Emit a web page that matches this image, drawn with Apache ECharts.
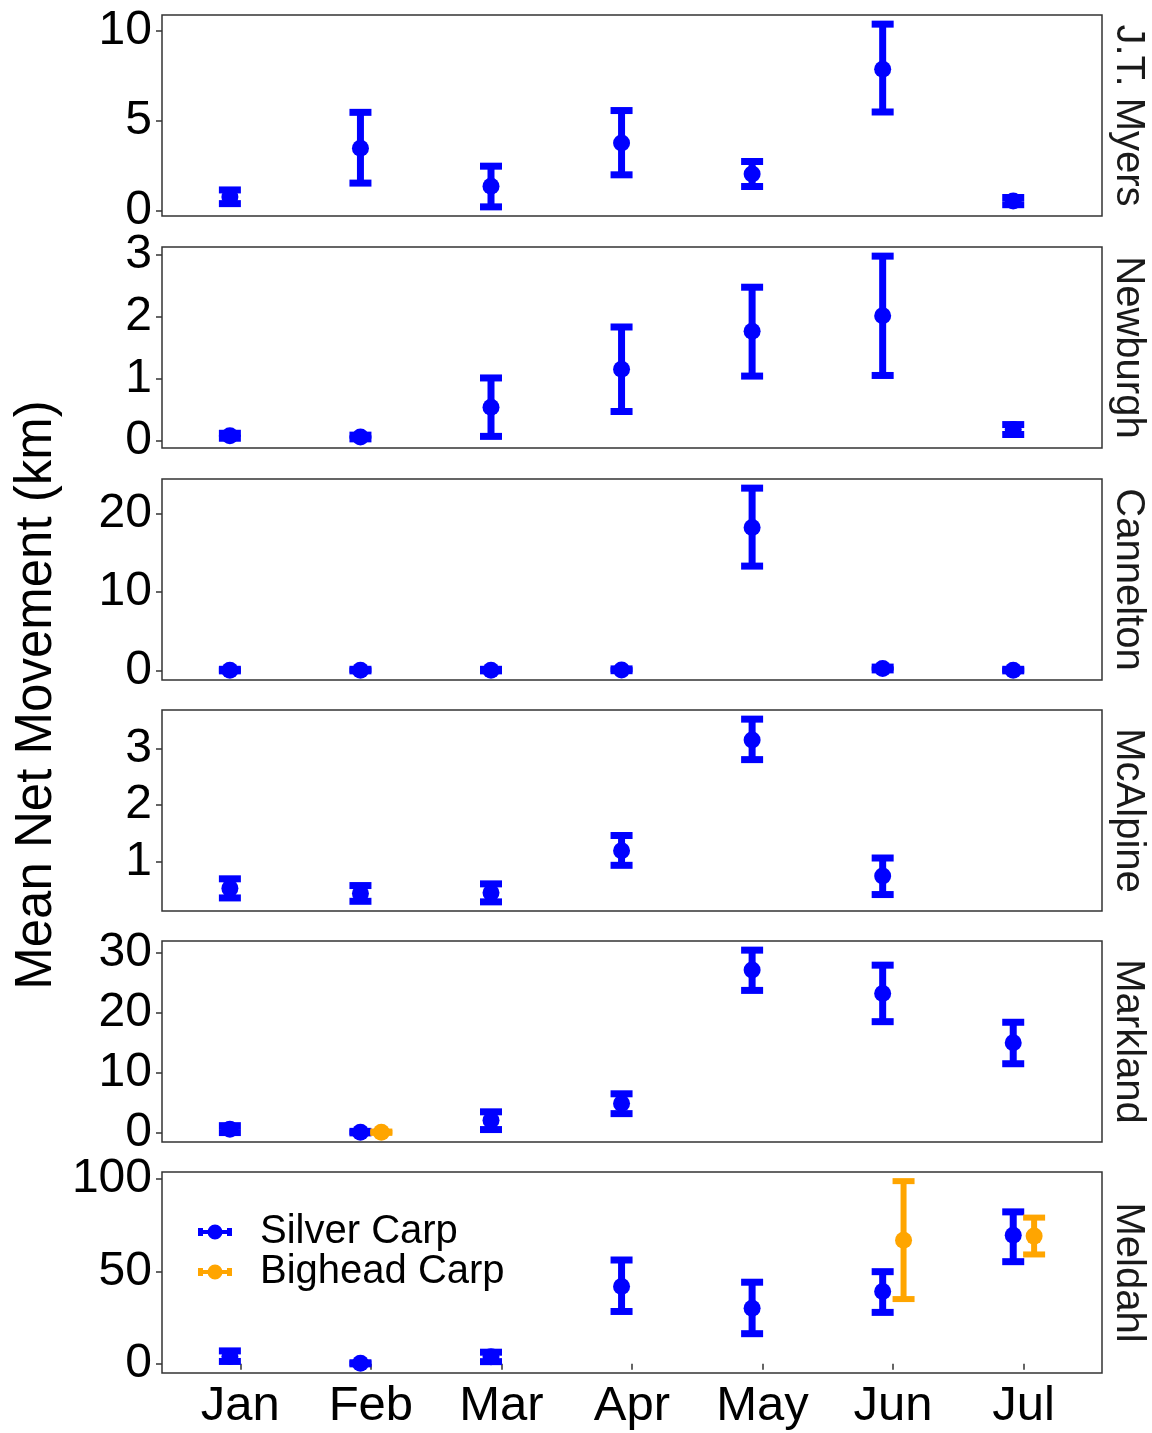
<!DOCTYPE html>
<html>
<head>
<meta charset="utf-8">
<title>Mean Net Movement by Site</title>
<script src="https://cdn.jsdelivr.net/npm/echarts@6/dist/echarts.min.js"></script>
<style>
  html, body { margin: 0; padding: 0; background: #fff; }
  #chart { width: 1152px; height: 1433px; }
</style>
</head>
<body>
<div id="chart"></div>
<script>
// Months on the x axis and the dam sites (one panel each, top to bottom)
const months = ['Jan', 'Feb', 'Mar', 'Apr', 'May', 'Jun', 'Jul'];
const sites = ['J.T. Myers', 'Newburgh', 'Cannelton', 'McAlpine', 'Markland', 'Meldahl'];
const species = ['Silver Carp', 'Bighead Carp'];

// Tick values on each panel's y axis
const yTicks = [
  [0, 5, 10],
  [0, 1, 2, 3],
  [0, 10, 20],
  [1, 2, 3],
  [0, 10, 20, 30],
  [0, 50, 100]
];

// Silver Carp: mean net movement (km) and error-bar limits, rows = sites, columns = months
const silverMean = [
  [0.75, 3.45, 1.35, 3.75, 2.02, 7.85, 0.52],
  [0.08, 0.06, 0.54, 1.15, 1.76, 2.01, 0.18],
  [0.08, 0.08, 0.08, 0.12, 18.2, 0.30, 0.08],
  [0.52, 0.43, 0.44, 1.19, 3.16, 0.74, null],
  [0.60, 0.10, 2.10, 4.90, 27.1, 23.2, 15.0],
  [4.0, 0.3, 3.8, 41.8, 30.1, 39.1, 69.5]
];
const silverLow = [
  [0.38, 1.52, 0.20, 1.98, 1.33, 5.47, 0.32],
  [0.04, 0.03, 0.07, 0.47, 1.04, 1.05, 0.10],
  [0.00, 0.00, 0.00, 0.02, 13.3, 0.12, 0.00],
  [0.35, 0.29, 0.28, 0.93, 2.81, 0.41, null],
  [0.05, 0.00, 0.55, 3.20, 23.7, 18.5, 11.5],
  [1.3, 0.0, 1.2, 28.3, 16.3, 27.8, 55.2]
];
const silverHigh = [
  [1.14, 5.45, 2.46, 5.55, 2.72, 10.35, 0.72],
  [0.12, 0.09, 1.01, 1.83, 2.47, 2.97, 0.26],
  [0.20, 0.20, 0.20, 0.25, 23.2, 0.48, 0.20],
  [0.69, 0.57, 0.60, 1.46, 3.53, 1.06, null],
  [1.20, 0.25, 3.50, 6.50, 30.4, 27.9, 18.4],
  [7.0, 0.6, 6.3, 56.1, 44.1, 49.8, 82.1]
];

// Bighead Carp: only recorded at Markland (Feb) and Meldahl (Jun, Jul)
const bigheadMean = [
  [null, null, null, null, null, null, null],
  [null, null, null, null, null, null, null],
  [null, null, null, null, null, null, null],
  [null, null, null, null, null, null, null],
  [null, 0.10, null, null, null, null, null],
  [null, null, null, null, null, 66.8, 69.0]
];
const bigheadLow = [
  [null, null, null, null, null, null, null],
  [null, null, null, null, null, null, null],
  [null, null, null, null, null, null, null],
  [null, null, null, null, null, null, null],
  [null, 0.00, null, null, null, null, null],
  [null, null, null, null, null, 35.0, 59.1]
];
const bigheadHigh = [
  [null, null, null, null, null, null, null],
  [null, null, null, null, null, null, null],
  [null, null, null, null, null, null, null],
  [null, null, null, null, null, null, null],
  [null, 0.22, null, null, null, null, null],
  [null, null, null, null, null, 98.7, 79.0]
];

const colors = { 'Silver Carp': '#0000ff', 'Bighead Carp': '#ffa500' };
const barWidths = { 'Silver Carp': 7, 'Bighead Carp': 6 };
const dodge = { 'Silver Carp': -0.08, 'Bighead Carp': 0.08 };

const FONT = '"Liberation Sans", Arial, Helvetica, sans-serif';
const panelTops = [15, 247, 479, 710, 941, 1172];
const panelHeight = 201;
const panelLeft = 162;
const panelWidth = 940;

// y range per panel: data span padded by 5% on each side
function panelRange(i) {
  const vals = [];
  [silverLow, silverHigh, bigheadLow, bigheadHigh, silverMean, bigheadMean].forEach(arr => {
    arr[i].forEach(v => { if (v !== null) vals.push(v); });
  });
  const lo = Math.min(...vals), hi = Math.max(...vals);
  const pad = (hi - lo) * 0.05;
  return [lo - pad, hi + pad];
}

function errorBarRenderer(lineWidth) {
  return function (params, api) {
    const x = api.value(0);
    const p1 = api.coord([x, api.value(1)]);
    const p2 = api.coord([x, api.value(2)]);
    const half = 11;
    const style = { stroke: api.visual('color'), lineWidth: lineWidth, lineCap: 'butt' };
    return {
      type: 'group',
      children: [
        { type: 'line', shape: { x1: p1[0], y1: p1[1], x2: p2[0], y2: p2[1] }, style: style },
        { type: 'line', shape: { x1: p1[0] - half, y1: p1[1], x2: p1[0] + half, y2: p1[1] }, style: style },
        { type: 'line', shape: { x1: p2[0] - half, y1: p2[1], x2: p2[0] + half, y2: p2[1] }, style: style }
      ]
    };
  };
}

const grids = [], xAxes = [], yAxes = [], series = [], graphics = [];
const monthTicks = months.map((m, k) => k + 1);

sites.forEach((site, i) => {
  const isBottom = i === sites.length - 1;
  const [ymin, ymax] = panelRange(i);
  grids.push({
    left: panelLeft, width: panelWidth, top: panelTops[i], height: panelHeight,
    show: true, borderColor: '#333333', borderWidth: 1.5, backgroundColor: '#ffffff'
  });
  xAxes.push({
    type: 'value', gridIndex: i, min: 0.4, max: 7.6,
    axisLine: { show: false },
    splitLine: { show: false },
    axisTick: {
      show: isBottom, customValues: monthTicks, length: 6,
      lineStyle: { color: '#333333', width: 1.5 }
    },
    axisLabel: {
      show: isBottom, customValues: monthTicks, margin: 9,
      formatter: v => months[Math.round(v) - 1] || '',
      fontSize: 49, fontFamily: FONT, color: '#000000'
    }
  });
  yAxes.push({
    type: 'value', gridIndex: i, min: ymin, max: ymax,
    axisLine: { show: false },
    splitLine: { show: false },
    axisTick: {
      show: true, customValues: yTicks[i], length: 6,
      lineStyle: { color: '#333333', width: 1.5 }
    },
    axisLabel: {
      customValues: yTicks[i], margin: 10,
      fontSize: 48, fontFamily: FONT, color: '#000000'
    }
  });

  species.forEach(sp => {
    const mean = sp === 'Silver Carp' ? silverMean[i] : bigheadMean[i];
    const low = sp === 'Silver Carp' ? silverLow[i] : bigheadLow[i];
    const high = sp === 'Silver Carp' ? silverHigh[i] : bigheadHigh[i];
    const bars = [], pts = [];
    mean.forEach((m, k) => {
      if (m === null) return;
      const x = k + 1 + dodge[sp];
      bars.push([x, low[k], high[k]]);
      pts.push([x, m]);
    });
    series.push({
      name: sp, type: 'custom', xAxisIndex: i, yAxisIndex: i,
      renderItem: errorBarRenderer(barWidths[sp]),
      encode: { x: 0, y: [1, 2] },
      itemStyle: { color: colors[sp], opacity: 1 },
      data: bars, z: 2
    });
    series.push({
      name: sp, type: 'scatter', xAxisIndex: i, yAxisIndex: i,
      symbol: 'circle', symbolSize: 17,
      itemStyle: { color: colors[sp], opacity: 1 },
      data: pts, z: 3
    });
  });

  // site name to the right of the panel, reading top to bottom
  graphics.push({
    type: 'text', x: 1128, y: panelTops[i] + panelHeight / 2, rotation: -Math.PI / 2,
    style: {
      text: site, fontSize: 40, fontFamily: FONT, fill: '#1a1a1a',
      align: 'center', verticalAlign: 'middle'
    }
  });
});

// shared y-axis title
graphics.push({
  type: 'text', x: 37, y: 695, rotation: Math.PI / 2,
  style: {
    text: 'Mean Net Movement (km)', fontSize: 51, fontFamily: FONT, fill: '#000000',
    align: 'center', verticalAlign: 'middle'
  }
});

const keyIcon = 'path://M0,4h5v2h24v-2h5v8h-5v-2h-24v2h-5z M17,0.5a7.5,7.5 0 1,1 0,15a7.5,7.5 0 1,1 0,-15z';

const chart = echarts.init(document.getElementById('chart'), null, { renderer: 'canvas' });
chart.setOption({
  animation: false,
  backgroundColor: '#ffffff',
  grid: grids,
  xAxis: xAxes,
  yAxis: yAxes,
  series: series,
  graphic: graphics,
  legend: {
    data: species.map(sp => ({ name: sp, icon: keyIcon })),
    orient: 'vertical', left: 198, top: 1212, padding: 0,
    itemWidth: 34, itemHeight: 16, itemGap: 0,
    selectedMode: false,
    textStyle: {
      fontSize: 40, fontFamily: FONT, color: '#000000', lineHeight: 39,
      padding: [0, 0, 0, 23]
    }
  }
});
</script>
</body>
</html>
